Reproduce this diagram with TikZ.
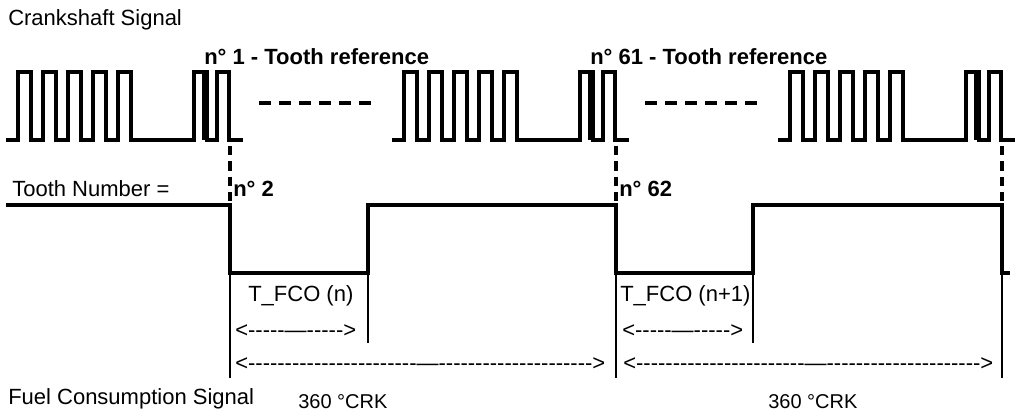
\documentclass[tikz,border=0pt]{standalone}
\usepackage{fontspec}
\setmainfont{Liberation Sans}
\ExplSyntaxOn
\NewDocumentCommand\dsh{m}{\prg_replicate:nn{#1}{-\kern0pt}}
\ExplSyntaxOff
\begin{document}
\begin{tikzpicture}[x=0.75pt,y=-0.75pt]
\useasboundingbox (0,0) rectangle (1022,414);
\tikzset{
 lbl/.style={inner sep=0pt, anchor=base west, font=\fontsize{16.5}{19}\selectfont},
 blbl/.style={inner sep=0pt, anchor=base west, font=\fontsize{16.5}{19}\selectfont\bfseries},
 crk/.style={inner sep=0pt, anchor=base west, font=\fontsize{15}{18}\selectfont},
 pulse/.style={line width=2.4pt},
 sig/.style={line width=2.6pt},
 refline/.style={line width=2.6pt, dash pattern=on 7pt off 4.5pt},
 gapdash/.style={line width=2.6pt, dash pattern=on 9pt off 6pt},
 thinline/.style={line width=1pt},
}
% crankshaft pulse trains
\foreach \d in {0,386,772}{
 \begin{scope}[xshift=\d*0.75pt]
  \draw[pulse] (6,140) -- (18,140) -- (18,72) -- (31,72) -- (31,140)
   -- (43,140) -- (43,72) -- (56,72) -- (56,140)
   -- (68,140) -- (68,72) -- (81,72) -- (81,140)
   -- (93,140) -- (93,72) -- (106,72) -- (106,140)
   -- (118,140) -- (118,72) -- (131,72) -- (131,140)
   -- (194,140) -- (194,72) -- (207,72) -- (207,140)
   -- (217,140) -- (217,72) -- (229,72) -- (229,140) -- (243,140);
  \fill (202,72) rectangle (208,140);
 \end{scope}
}
% gap dashes
\coordinate (g1a) at (259,103); \coordinate (g1b) at (372,103);
\coordinate (g2a) at (645,103); \coordinate (g2b) at (758,103);
\draw[gapdash] (g1a) -- (g1b);
\draw[gapdash] (g2a) -- (g2b);
% reference dashed lines
\foreach \x/\n in {230/a,616/b,1002/c}{
 \coordinate (rt\n) at (\x,146); \coordinate (rb\n) at (\x,205);
 \draw[refline] (rt\n) -- (rb\n);
}
% fuel consumption signal
\draw[sig] (6,205) -- (230,205) -- (230,273) -- (368,273) -- (368,205)
 -- (616,205) -- (616,273) -- (753,273) -- (753,205) -- (1002,205)
 -- (1002,273) -- (1010,273);
% thin markers
\foreach \x/\y/\n in {230/378/a,368/343/b,616/378/c,753/343/d,1002/378/e}{
 \coordinate (tt\n) at (\x,273); \coordinate (tb\n) at (\x,\y);
 \draw[thinline] (tt\n) -- (tb\n);
}
% texts
\node[lbl] (crank) at (8,26) {Crankshaft Signal};
\node[blbl] (ref1) at (204,64) {n° 1 - Tooth reference};
\node[blbl] (ref61) at (590,64) {n° 61 - Tooth reference};
\node[lbl] (toothnum) at (12,196) {Tooth Number =};
\node[blbl] (n2) at (233,196) {n° 2};
\node[blbl] (n62) at (619,196) {n° 62};
\node[lbl] (tfco1) at (248,301) {T\_FCO (n)};
\node[lbl] (tfco2) at (620,301) {T\_FCO (n+1)};
\node[lbl] (sa1) at (235,337) {<\dsh{5}—\dsh{5}>};
\node[lbl] (sa2) at (622,337) {<\dsh{5}—\dsh{5}>};
\node[lbl] (la1) at (235,370) {<\dsh{23}—\dsh{21}>};
\node[lbl] (la2) at (623,370) {<\dsh{23}—\dsh{21}>};
\node[lbl] (fuel) at (8,404) {Fuel Consumption Signal};
\node[crk] (crk1) at (298,408) {360 °CRK};
\node[crk] (crk2) at (768,408) {360 °CRK};
\end{tikzpicture}
\end{document}
